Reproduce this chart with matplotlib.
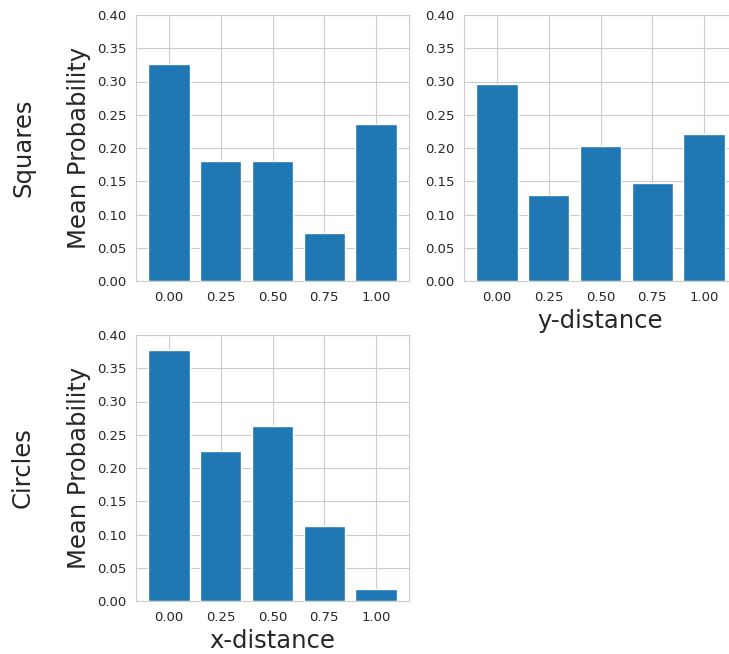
import matplotlib
matplotlib.use("Agg")
from matplotlib import pyplot as plt
import seaborn as sns

sns.set_style("whitegrid")
plt.rcParams['font.family'] = ['DejaVu Sans']

distance_labels = ["0.00", "0.25", "0.50", "0.75", "1.00"]

# mean probability per distance bin
squares_x = [0.3265, 0.181, 0.181, 0.072, 0.2355]
squares_y = [0.2955, 0.129, 0.203, 0.148, 0.2215]
circles_x = [0.377, 0.2255, 0.2635, 0.1125, 0.0185]

TEXT = '#262626'


def draw_bars(ax, values, ylabel=None, xlabel=None):
    ax.bar(range(len(values)), values, width=0.8, color='#1f77b4',
           edgecolor='white', linewidth=1)
    ax.set_ylim(0, 0.40)
    ax.set_yticks([0.0, 0.05, 0.10, 0.15, 0.20, 0.25, 0.30, 0.35, 0.40])
    ax.set_yticklabels(["%.2f" % v for v in ax.get_yticks()])
    ax.set_xticks(range(len(values)))
    ax.set_xticklabels(distance_labels)
    ax.tick_params(labelsize=9.5, colors=TEXT)
    ax.set_axisbelow(True)
    if ylabel:
        ax.set_ylabel(ylabel, fontsize=17.5, color=TEXT)
    if xlabel:
        ax.set_xlabel(xlabel, fontsize=17.5, color=TEXT)


fig = plt.figure(figsize=(7.29, 6.54), dpi=100)
W, H = 729.0, 654.0
aw, ah = 273 / W, 266 / H

ax1 = fig.add_axes([136 / W, 1 - 281 / H, aw, ah])
ax2 = fig.add_axes([464 / W, 1 - 281 / H, aw, ah])
ax3 = fig.add_axes([136 / W, 1 - 601 / H, aw, ah])

draw_bars(ax1, squares_x, ylabel="Mean Probability")
draw_bars(ax2, squares_y, xlabel="y-distance")
draw_bars(ax3, circles_x, ylabel="Mean Probability", xlabel="x-distance")

fig.text(23 / W, 1 - 148 / H, "Squares", rotation=90, fontsize=17.5,
         color=TEXT, ha='center', va='center')
fig.text(23 / W, 1 - 468 / H, "Circles", rotation=90, fontsize=17.5,
         color=TEXT, ha='center', va='center')

plt.savefig("out.png", dpi=100)
